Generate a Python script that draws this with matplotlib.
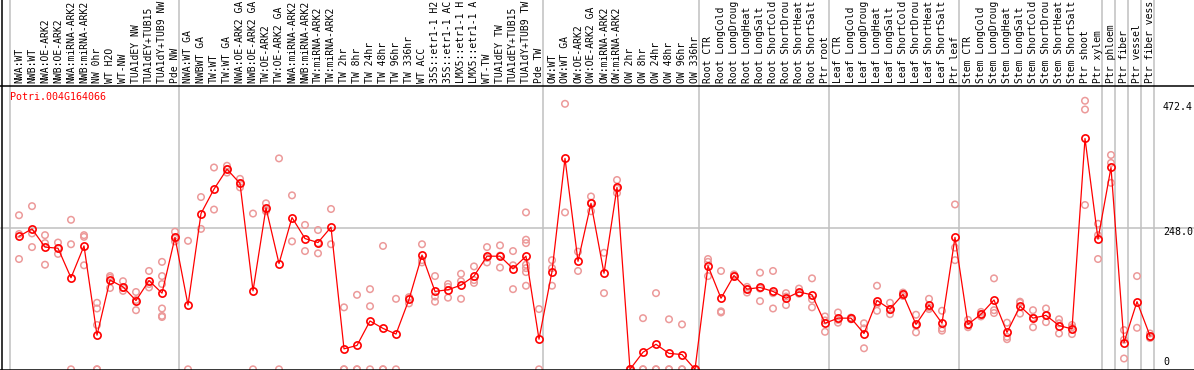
import numpy as np
import matplotlib
matplotlib.use("Agg")
import matplotlib.pyplot as plt
from matplotlib.lines import Line2D

# ---- data ----
gene = "Potri.004G164066"

# category labels as they show in the reference (first 14 characters)
labels = [
    "NWA:WT", "NWB:WT", "NWA:OE-ARK2", "NWB:OE-ARK2", "NWA:miRNA-ARK2", "NWB:miRNA-ARK2",
    "NW 0hr", "WT H2O", "WT-NW", "TUA1dEY NW", "TUA1dEY+TUB15", "TUA1dY+TUB9 NW", "Pde NW",
    "NWA:WT GA", "NWBWT GA", "TW:WT", "TW:WT GA", "NWA:OE-ARK2 GA", "NWB:OE-ARK2 GA",
    "TW:OE-ARK2", "TW:OE-ARK2 GA", "NWA:miRNA-ARK2", "NWB:miRNA-ARK2", "TW:miRNA-ARK2",
    "TW:miRNA-ARK2", "TW 2hr", "TW 8hr", "TW 24hr", "TW 48hr", "TW 96hr", "TW 336hr",
    "WT ACC", "35S::etr1-1 H2", "35S::etr1-1 AC", "LMX5::etr1-1 H", "LMX5::etr1-1 A",
    "WT-TW", "TUA1dEY TW", "TUA1dEY+TUB15", "TUA1dY+TUB9 TW", "Pde TW",
    "OW:WT", "OW:WT GA", "OW:OE-ARK2", "OW:OE-ARK2 GA", "OW:miRNA-ARK2", "OW:miRNA-ARK2",
    "OW 2hr", "OW 8hr", "OW 24hr", "OW 48hr", "OW 96hr", "OW 336hr",
    "Root CTR", "Root LongCold", "Root LongDroug", "Root LongHeat", "Root LongSalt",
    "Root ShortCold", "Root ShortDrou", "Root ShortHeat", "Root ShortSalt", "Ptr root",
    "Leaf CTR", "Leaf LongCold", "Leaf LongDroug", "Leaf LongHeat", "Leaf LongSalt",
    "Leaf ShortCold", "Leaf ShortDrou", "Leaf ShortHeat", "Leaf ShortSalt", "Ptr leaf",
    "Stem CTR", "Stem LongCold", "Stem LongDroug", "Stem LongHeat", "Stem LongSalt",
    "Stem ShortCold", "Stem ShortDrou", "Stem ShortHeat", "Stem ShortSalt", "Ptr shoot",
    "Ptr xylem", "Ptr phloem", "Ptr fiber", "Ptr vessel", "Ptr fiber vess",
]

means = [
    234, 247, 215, 213, 161, 217, 60, 157, 145, 121, 156, 134, 232,
    113, 274, 317, 352, 327, 138, 284, 186, 267, 230, 223, 250, 36, 42, 85, 72, 62, 123,
    201, 137, 140, 148, 164, 199, 199, 177, 199, 53,
    172, 371, 190, 292, 169, 320, 0, 30, 44, 28, 26, 0,
    182, 125, 165, 141, 144, 137, 125, 136, 131, 81,
    90, 90, 63, 121, 106, 132, 79, 113, 81, 232,
    79, 97, 122, 65, 111, 90, 95, 77, 71, 406, 229,
    355, 47, 119, 59,
]

reps = [
    [271, 238, 194], [287, 239, 215], [236, 222, 184], [223, 213, 203], [263, 220, 0],
    [236, 233, 183], [117, 107, 78, 0, 0], [164, 161, 143], [155, 143, 138], [136, 122, 104],
    [173, 150, 144], [189, 164, 150, 107, 94, 92], [242, 230, 225],
    [226, 0], [303, 247], [355, 281], [358, 352, 346], [335, 327, 320], [274, 0],
    [292, 280, 278], [371, 0], [306, 225], [254, 208], [245, 222, 204], [282, 220],
    [109, 0, 0], [131, 0, 0], [141, 111, 0], [217, 0, 0], [124, 0], [127, 126, 116],
    [220, 192, 188], [164, 128, 119], [150, 145, 126], [168, 155, 124], [181, 157, 152],
    [215, 196, 188], [218, 200, 179], [208, 183, 141], [276, 228, 222, 184, 178, 171, 147],
    [106, 0],
    [192, 178, 147], [467, 276], [207, 173], [304, 293, 278], [205, 134], [333, 318, 310],
    [0, 0, 0], [90, 0, 0], [134, 0, 0], [88, 0, 0], [79, 0, 0], [0, 0, 0],
    [194, 189, 164], [173, 102, 100], [167, 165, 163], [145, 141, 135], [170, 142, 120],
    [173, 134, 107], [134, 128, 113], [142, 134, 133], [160, 123, 109], [93, 86, 66],
    [100, 87, 82], [91, 90, 88], [81, 72, 37], [147, 115, 103], [117, 104, 97],
    [135, 133, 129], [96, 77, 65], [124, 109, 106], [103, 72, 68], [290, 214, 192],
    [87, 77, 74], [101, 97, 93], [160, 104, 99], [82, 57, 53], [119, 117, 98],
    [104, 91, 74], [107, 95, 83], [88, 81, 63], [78, 74, 62], [472.4, 457, 289],
    [256, 236, 194],
    [377, 363, 328], [69, 52, 19], [164, 73], [63, 57, 55],
]

# first category index of each group (grey separators)
group_starts = [0, 13, 41, 53, 63, 73, 84, 85, 86, 87, 88]
ticks = [472.4, 248.0, 0]
tick_text = ["472.4", "248.0", "0"]

W, H = 1194, 370
RED = "#ff0000"
PINK = "#ec9a9a"
GRID = "#c0c0c0"
FONT = "DejaVu Sans Mono"

fig = plt.figure(figsize=(W / 100, H / 100), dpi=100)

# plot area: pixel rows 85..370 ; x: one category every 13 px, first at px 19
ax = fig.add_axes([0, 0, 1, 285 / H])
lab = fig.add_axes([0, 285 / H, 1, 85 / H])
for a in (ax, lab):
    a.set_xlim(-19 / 13, (W - 19) / 13)
    a.axis("off")
ax.set_ylim(-1.2, 500.1)
lab.set_ylim(0, 85)

x = np.arange(len(labels))

for k in group_starts:
    ax.axvline(k - 9 / 13, color=GRID, lw=1.1, zorder=0)
    lab.axvline(k - 9 / 13, color=GRID, lw=1.1, zorder=0)
ax.axhline(248, color=GRID, lw=1.1, zorder=0)

# replicate points
rx = [i for i, r in enumerate(reps) for _ in r]
ry = [v for r in reps for v in r]
ax.scatter(rx, ry, s=22, facecolors="none", edgecolors=PINK, linewidths=1.1, zorder=2)

# mean line
ax.plot(x, means, color=RED, lw=0.9, marker="o", ms=5.2, mfc="none", mec=RED,
        mew=1.2, zorder=3)

ax.text(-9 / 13, 479, gene, color=RED, fontsize=7.2, family=FONT, va="center", ha="left")

tick_y = [461, 241, 13]
for t, yy in zip(tick_text, tick_y):
    ax.text(88.0, yy, t, fontsize=7.2, family=FONT, va="center", ha="left", color="black")

for i, t in enumerate(labels):
    lab.text(i, 1.8, t, rotation=90, ha="center", va="bottom", fontsize=7.0, family=FONT,
             color="black")

# frame lines
fig.add_artist(Line2D([1.5 / W, 1.5 / W], [0, 1], color="black", lw=1.1))
fig.add_artist(Line2D([0, 1], [(H - 85.5) / H, (H - 85.5) / H], color="black", lw=1.1))
fig.add_artist(Line2D([0, 1], [0.5 / H, 0.5 / H], color="black", lw=1.1))

fig.savefig("out.png", dpi=100)
